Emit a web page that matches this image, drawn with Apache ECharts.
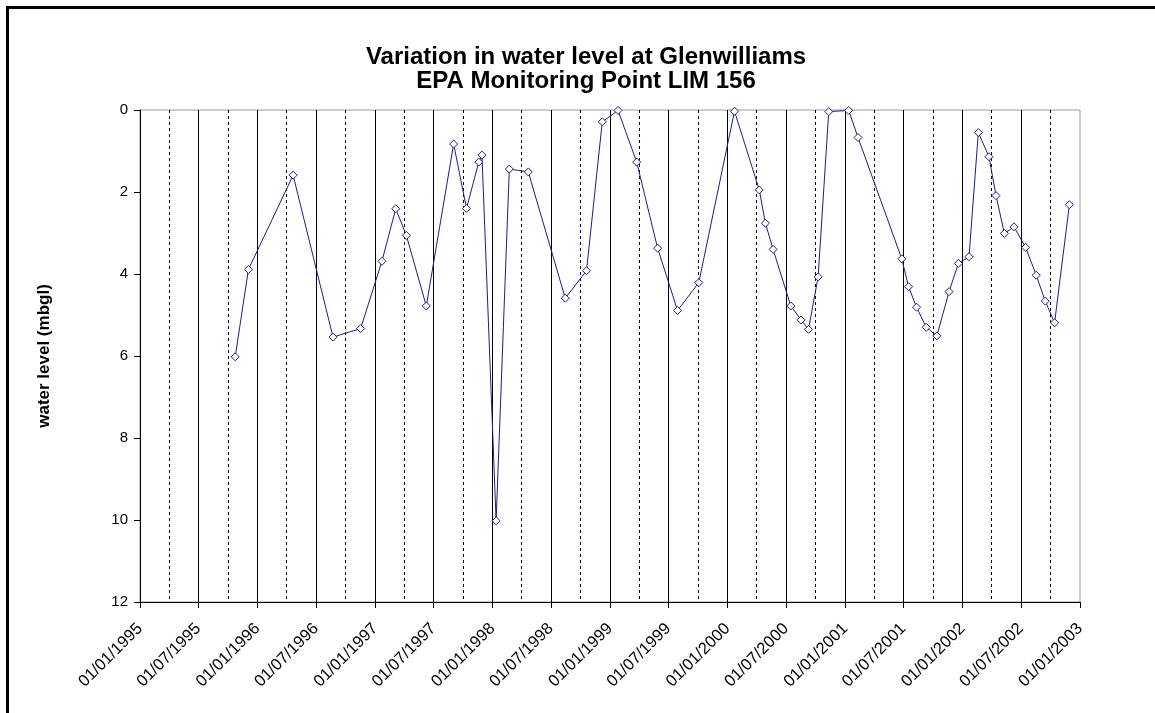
<!DOCTYPE html>
<html>
<head>
<meta charset="utf-8">
<script src="https://cdn.jsdelivr.net/npm/echarts@6/dist/echarts.min.js"></script>
<style>
  html, body { margin: 0; padding: 0; background: #fff; }
  #chart { width: 1155px; height: 713px; }
</style>
</head>
<body>
<div id="chart"></div>
<script>
// sample dates
var sampleDates = [
  '1995-10-24', '1995-12-04', '1996-04-21', '1996-08-23', '1996-11-17',
  '1997-01-22', '1997-03-06', '1997-04-08', '1997-06-09', '1997-09-02',
  '1997-10-12', '1997-11-19', '1997-11-29', '1998-01-12', '1998-02-22',
  '1998-04-22', '1998-08-15', '1998-10-20', '1998-12-08', '1999-01-26',
  '1999-03-25', '1999-05-29', '1999-07-30', '1999-10-04', '2000-01-23',
  '2000-04-09', '2000-04-28', '2000-05-22', '2000-07-16', '2000-08-17',
  '2000-09-09', '2000-10-09', '2000-11-11', '2001-01-12', '2001-02-10',
  '2001-06-26', '2001-07-17', '2001-08-11', '2001-09-10', '2001-10-13',
  '2001-11-20', '2001-12-19', '2002-01-21', '2002-02-19', '2002-03-24',
  '2002-04-15', '2002-05-11', '2002-06-10', '2002-07-16', '2002-08-18',
  '2002-09-15', '2002-10-14', '2002-11-29'
];
// water level, metres below ground level
var waterLevel = [
  6.02, 3.89, 1.59, 5.54, 5.33,
  3.69, 2.41, 3.06, 4.78, 0.83,
  2.40, 1.27, 1.10, 10.02, 1.44,
  1.51, 4.59, 3.92, 0.29, 0.01,
  1.27, 3.37, 4.89, 4.21, 0.03,
  1.95, 2.76, 3.40, 4.78, 5.12,
  5.35, 4.07, 0.04, 0.01, 0.67,
  3.63, 4.31, 4.81, 5.30, 5.51,
  4.43, 3.74, 3.58, 0.55, 1.14,
  2.09, 3.01, 2.85, 3.35, 4.03,
  4.66, 5.19, 2.31
];
// labelled ticks (every 6 months) and dashed quarter lines
var labelDates = [
  '1995-01-01', '1995-07-01', '1996-01-01', '1996-07-01', '1997-01-01',
  '1997-07-01', '1998-01-01', '1998-07-01', '1999-01-01', '1999-07-01',
  '2000-01-01', '2000-07-01', '2001-01-01', '2001-07-01', '2002-01-01',
  '2002-07-01', '2003-01-01'
];
var quarterDates = [
  '1995-04-01', '1995-10-01', '1996-04-01', '1996-10-01', '1997-04-01',
  '1997-10-01', '1998-04-01', '1998-10-01', '1999-04-01', '1999-10-01',
  '2000-04-01', '2000-10-01', '2001-04-01', '2001-10-01', '2002-04-01',
  '2002-10-01'
];
var yTicks = [0, 2, 4, 6, 8, 10, 12];

function toTime(s) {
  var p = s.split('-');
  return new Date(+p[0], +p[1] - 1, +p[2]).getTime();
}
function pad(n) { return n < 10 ? '0' + n : '' + n; }
function fmtDate(v) {
  var d = new Date(v);
  return pad(d.getDate()) + '/' + pad(d.getMonth() + 1) + '/' + d.getFullYear();
}

var labelTimes = labelDates.map(toTime);
var quarterTimes = quarterDates.map(toTime);
var seriesData = [];
for (var i = 0; i < sampleDates.length; i++) {
  seriesData.push([toTime(sampleDates[i]), waterLevel[i]]);
}
// inner half-year lines are solid, quarter lines dashed
var solidLines = labelTimes.slice(1, labelTimes.length - 1).map(function (t) { return { xAxis: t }; });
var dashedLines = quarterTimes.map(function (t) { return { xAxis: t }; });

var font = 'Liberation Sans, Arial, sans-serif';
var myChart = echarts.init(document.getElementById('chart'));
myChart.setOption({
  animation: false,
  backgroundColor: '#fff',
  title: {
    text: 'Variation in water level at Glenwilliams\nEPA Monitoring Point LIM 156',
    left: 581,
    top: 40,
    textAlign: 'center',
    textStyle: {
      fontFamily: font,
      fontSize: 24,
      fontWeight: 'bold',
      color: '#000',
      lineHeight: 24
    }
  },
  graphic: [{
    type: 'rect',
    shape: { x: 7.5, y: 7.5, width: 1300, height: 900 },
    style: { fill: null, stroke: '#000', lineWidth: 3 },
    silent: true
  }],
  grid: {
    left: 140,
    top: 110,
    right: 75,
    bottom: 111,
    show: true,
    borderColor: '#999',
    borderWidth: 1,
    backgroundColor: '#fff'
  },
  xAxis: {
    type: 'value',
    min: labelTimes[0],
    max: labelTimes[labelTimes.length - 1],
    axisLine: { onZero: false, lineStyle: { color: '#000', width: 1 } },
    axisTick: { show: true, length: 6, customValues: labelTimes, lineStyle: { color: '#000' } },
    axisLabel: {
      customValues: labelTimes,
      rotate: 45,
      formatter: fmtDate,
      fontFamily: font,
      fontSize: 16.5,
      color: '#000',
      margin: 24
    },
    splitLine: { show: false }
  },
  yAxis: {
    type: 'value',
    inverse: true,
    min: yTicks[0],
    max: yTicks[yTicks.length - 1],
    interval: 2,
    name: 'water level (mbgl)',
    nameLocation: 'middle',
    nameRotate: 90,
    nameGap: 87,
    nameTextStyle: { fontFamily: font, fontSize: 17, fontWeight: 'bold', color: '#000' },
    axisLine: { show: true, lineStyle: { color: '#000', width: 1 } },
    axisTick: { show: true, length: 6, lineStyle: { color: '#000' } },
    axisLabel: { fontFamily: font, fontSize: 15, color: '#000', margin: 12 },
    splitLine: { show: false }
  },
  series: [{
    type: 'line',
    data: [],
    silent: true,
    z: 1,
    markLine: {
      silent: true,
      symbol: ['none', 'none'],
      label: { show: false },
      animation: false,
      lineStyle: { color: '#000', width: 1, type: 'solid' },
      data: solidLines
    }
  }, {
    type: 'line',
    data: [],
    silent: true,
    z: 1,
    markLine: {
      silent: true,
      symbol: ['none', 'none'],
      label: { show: false },
      animation: false,
      lineStyle: { color: '#000', width: 1, type: [3, 3] },
      data: dashedLines
    }
  }, {
    type: 'line',
    data: seriesData,
    symbol: 'diamond',
    symbolSize: 8,
    showAllSymbol: true,
    lineStyle: { color: '#1c1c8c', width: 1 },
    itemStyle: { color: '#fff', borderColor: '#1c1c8c', borderWidth: 1 },
    z: 5
  }]
});
</script>
</body>
</html>
